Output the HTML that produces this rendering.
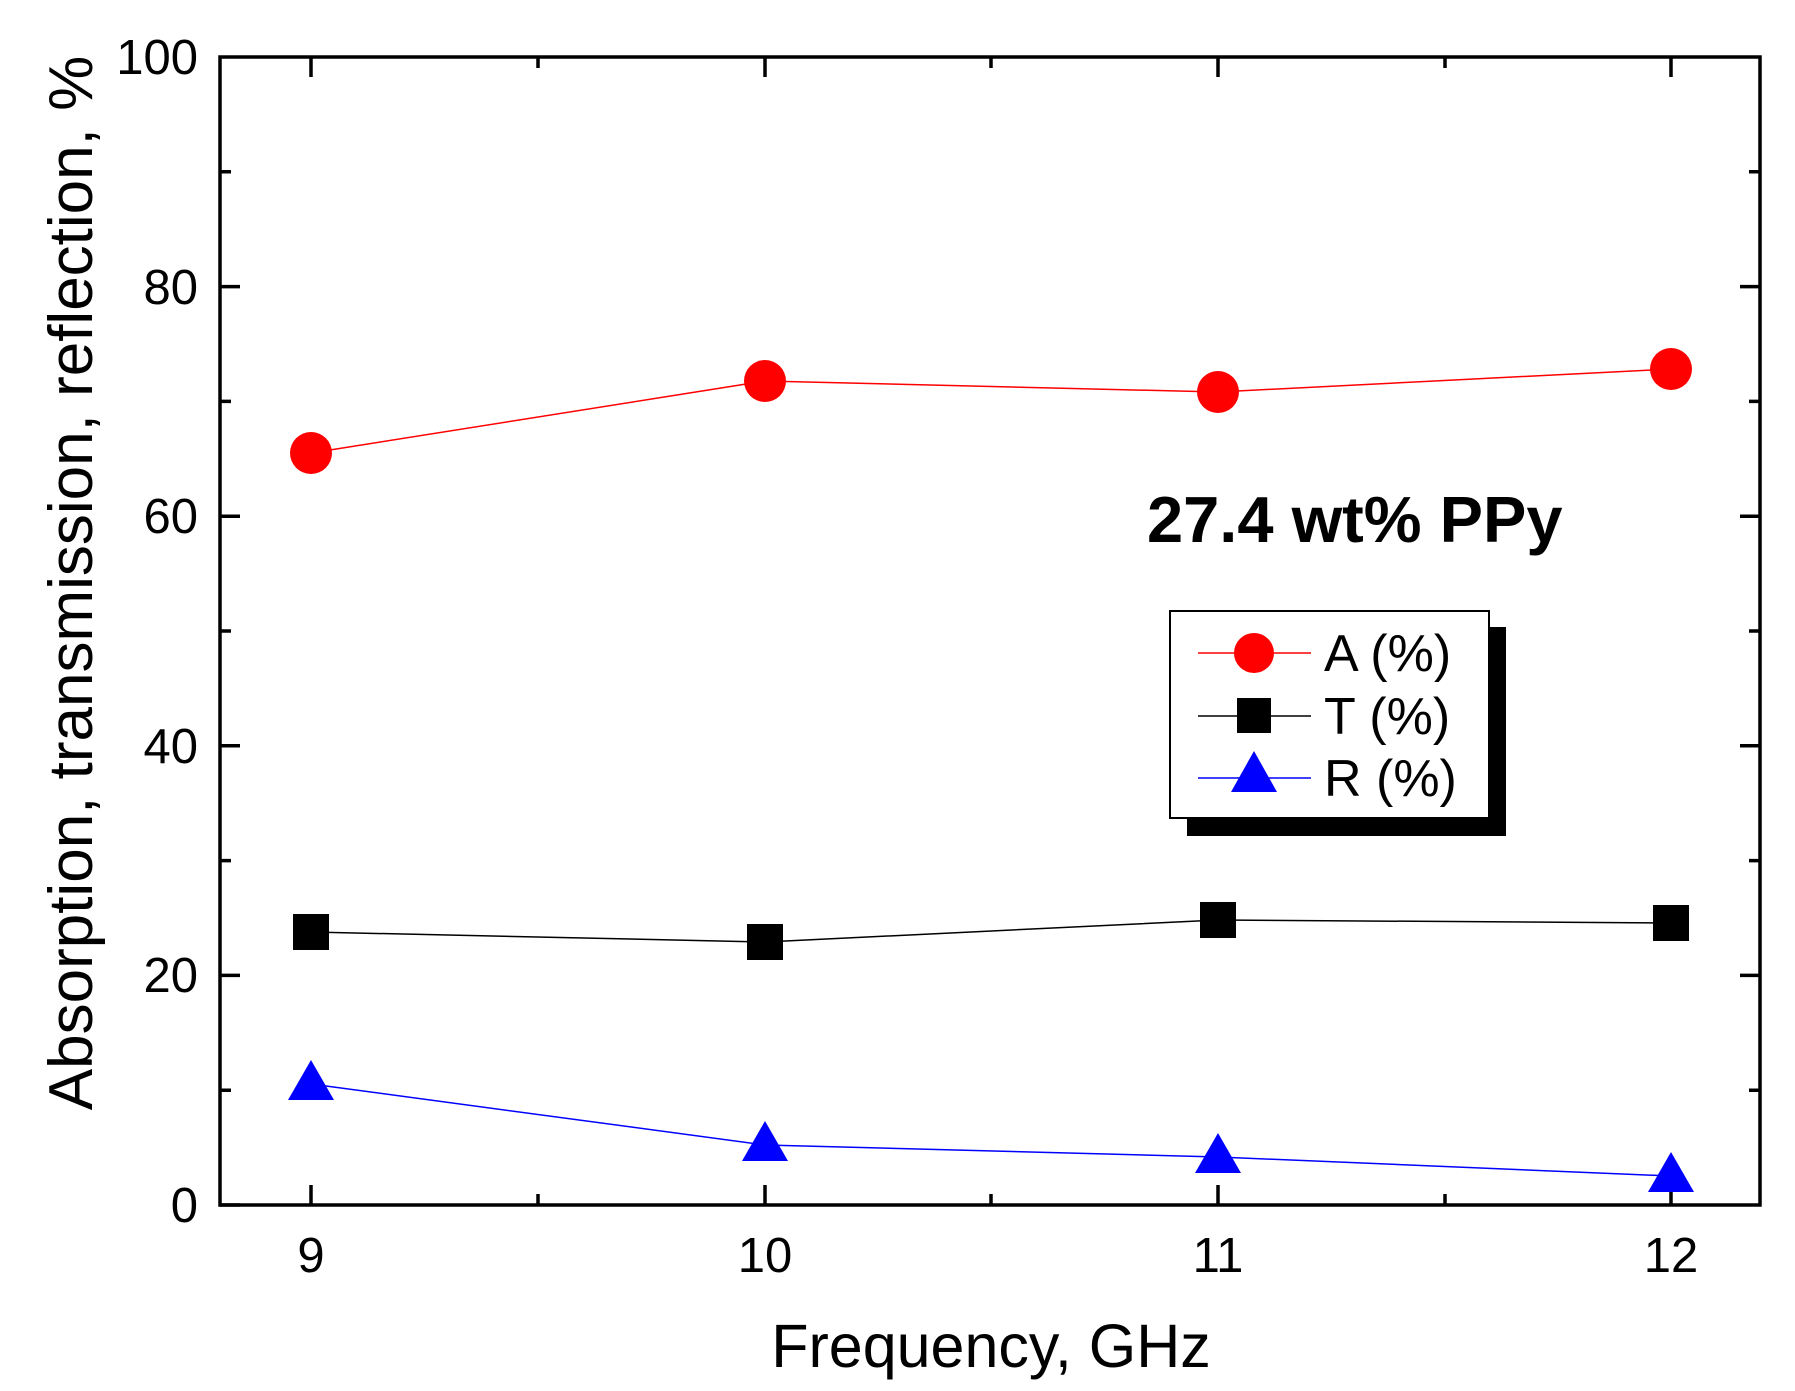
<!DOCTYPE html>
<html><head><style>body{margin:0;background:#fff}svg{display:block}</style></head><body>
<svg width="1795" height="1391" viewBox="0 0 1795 1391" xmlns="http://www.w3.org/2000/svg" font-family="Liberation Sans, sans-serif">
<rect width="1795" height="1391" fill="#fff"/>
<g stroke="#000" stroke-width="3.5">
<rect x="220" y="57" width="1540" height="1148" fill="none"/>
<path d="M220 1205h20M220 975.4h20M220 745.8h20M220 516.2h20M220 286.6h20M1760 975.4h-20M1760 745.8h-20M1760 516.2h-20M1760 286.6h-20"/>
<path d="M220 1090.2h11M220 860.6h11M220 631h11M220 401.4h11M220 171.8h11M1760 1090.2h-11M1760 860.6h-11M1760 631h-11M1760 401.4h-11M1760 171.8h-11"/>
<path d="M311 1205v-20M765 1205v-20M1218 1205v-20M1671 1205v-20M311 57v20M765 57v20M1218 57v20M1671 57v20"/>
<path d="M538 1205v-11M991 1205v-11M1445 1205v-11M538 57v11M991 57v11M1445 57v11"/>
</g>
<g font-size="49" text-anchor="end">
<text x="198" y="1222">0</text><text x="198" y="992">20</text><text x="198" y="763">40</text><text x="198" y="533">60</text><text x="198" y="304">80</text><text x="198" y="74">100</text>
</g>
<g font-size="49" text-anchor="middle">
<text x="311" y="1272">9</text><text x="765" y="1272">10</text><text x="1218" y="1272">11</text><text x="1671" y="1272">12</text>
</g>
<text x="991" y="1367" font-size="61" text-anchor="middle">Frequency, GHz</text>
<text transform="translate(92 583) rotate(-90)" font-size="62" text-anchor="middle">Absorption, transmission, reflection, %</text>
<text x="1147" y="542" font-size="65" font-weight="bold">27.4 wt% PPy</text>
<polyline points="311,453 765,381 1218,392 1671,369" fill="none" stroke="#f00" stroke-width="1.5"/>
<polyline points="311,932 765,942 1218,920 1671,923" fill="none" stroke="#000" stroke-width="1.5"/>
<polyline points="311,1084 765,1145 1218,1157 1671,1176" fill="none" stroke="#00f" stroke-width="1.5"/>
<g fill="#f00"><circle cx="311" cy="453" r="21"/><circle cx="765" cy="381" r="21"/><circle cx="1218" cy="392" r="21"/><circle cx="1671" cy="369" r="21"/></g>
<g fill="#000"><rect x="293" y="914" width="36" height="36"/><rect x="747" y="924" width="36" height="36"/><rect x="1200" y="902" width="36" height="36"/><rect x="1653" y="905" width="36" height="36"/></g>
<g fill="#00f"><path d="M311 1060l23 40h-46z"/><path d="M765 1121l23 40h-46z"/><path d="M1218 1133l23 40h-46z"/><path d="M1671 1152l23 40h-46z"/></g>
<rect x="1187" y="627" width="319" height="209" fill="#000"/>
<rect x="1170" y="611" width="319" height="207" fill="#fff" stroke="#000" stroke-width="2"/>
<path d="M1198 653h113" stroke="#f00" stroke-width="1.5"/><circle cx="1254" cy="653" r="20" fill="#f00"/>
<path d="M1198 716h113" stroke="#000" stroke-width="1.5"/><rect x="1237" y="698" width="34" height="35" fill="#000"/>
<path d="M1198 778h113" stroke="#00f" stroke-width="1.5"/><path d="M1254 751l23 41h-46z" fill="#00f"/>
<g font-size="52"><text x="1324" y="671">A (%)</text><text x="1324" y="734">T (%)</text><text x="1324" y="796">R (%)</text></g>
</svg>
</body></html>
